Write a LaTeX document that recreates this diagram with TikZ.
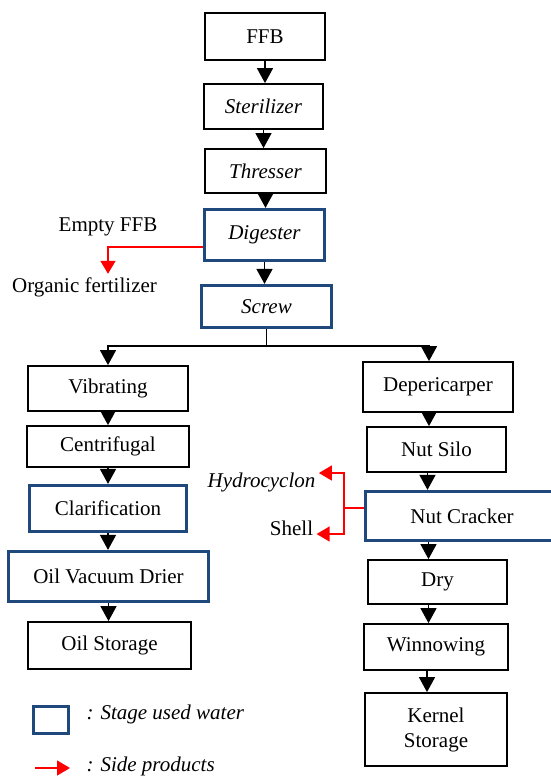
\documentclass[tikz,border=0pt]{standalone}
\usepackage{fontspec}
\setmainfont{Liberation Serif}
\usetikzlibrary{
    arrows.meta,
    positioning,
    calc
}
\definecolor{waterblue}{RGB}{31, 73, 125}
\definecolor{sidered}{RGB}{255, 0, 0}

\begin{document}
\begin{tikzpicture}[
        x=1pt, y=-1pt,
        font=\fontsize{21}{25}\selectfont,
        block/.style={draw, line width=1.8pt, inner sep=0pt, align=center},
        waterblock/.style={block, draw=waterblue, line width=3.2pt},
        arrow/.style={-{Triangle[width=16pt, length=15pt]}, line width=1.5pt},
        sidearrow/.style={-{Triangle[width=15pt, length=13pt]}, line width=1.5pt, draw=sidered}
    ]
        \useasboundingbox (0,0) rectangle (551,777);

        % Main line
        \node[block, minimum width=120pt, minimum height=47pt] (ffb) at (265, 36.5) {FFB};
        \node[block, minimum width=119pt, minimum height=45pt] (steril) at (263.5, 106.5) {\textit{Sterilizer}};
        \node[block, minimum width=121pt, minimum height=44pt] (thres) at (265.5, 171) {\textit{Thresser}};
        \node[waterblock, minimum width=120pt, minimum height=51pt] (digest) at (264.5, 235) {\textit{Digester}};
        \node[waterblock, minimum width=130pt, minimum height=42pt] (screw) at (266.5, 306.5) {\textit{Screw}};

        % Oil line
        \node[block, minimum width=160pt, minimum height=45pt] (vib) at (108, 388.5) {Vibrating};
        \node[block, minimum width=162pt, minimum height=41pt] (centri) at (108, 446.5) {Centrifugal};
        \node[waterblock, minimum width=157pt, minimum height=46pt] (clar) at (108, 508.5) {Clarification};
        \node[waterblock, minimum width=200pt, minimum height=50pt] (drier) at (108.5, 576.5) {Oil Vacuum Drier};
        \node[block, minimum width=163pt, minimum height=47pt] (oilst) at (109.5, 645.5) {Oil Storage};

        % Kernel line
        \node[block, minimum width=150pt, minimum height=50pt] (depe) at (438, 387) {Depericarper};
        \node[block, minimum width=139pt, minimum height=45pt] (silo) at (436.5, 449.5) {Nut Silo};
        \node[waterblock, minimum width=193pt, minimum height=49pt] (crack) at (462, 516) {Nut Cracker};
        \node[block, minimum width=139pt, minimum height=44pt] (dry) at (437.5, 582) {Dry};
        \node[block, minimum width=144pt, minimum height=46pt] (winnow) at (436, 647) {Winnowing};
        \node[block, minimum width=142pt, minimum height=73pt] (kernel) at (436, 729.5) {Kernel\\Storage};

        % Side products
        \node (empty) at (108, 227) {Empty FFB};
        \node (fert) at (84.5, 287) {Organic fertilizer};
        \node (hydro) at (261.5, 482) {\textit{Hydrocyclon}};
        \node (shell) at (291.5, 528) {Shell};

        % Arrows
        \draw[arrow] (ffb.south) -- (ffb.south |- steril.north);
        \draw[arrow] (steril.south) -- (steril.south |- thres.north);
        \draw[arrow] (thres.south) -- (thres.south |- digest.north);
        \draw[arrow] (digest.south) -- (digest.south |- screw.north);
        \draw[line width=1.5pt] (screw.south) -- ++(0,17) coordinate (split);
        \draw[arrow] (split) -| (vib.north);
        \draw[arrow] (split) -| ([xshift=-9pt]depe.north);

        \draw[arrow] (vib.south) -- (vib.south |- centri.north);
        \draw[arrow] (centri.south) -- (centri.south |- clar.north);
        \draw[arrow] (clar.south) -- (clar.south |- drier.north);
        \draw[arrow] (drier.south) -- (drier.south |- oilst.north);

        \draw[arrow] ([xshift=-9pt]depe.south) -- ([xshift=-9pt]depe.south |- silo.north);
        \draw[arrow] ([xshift=-9pt]silo.south) -- ([xshift=-9pt]silo.south |- crack.north);
        \draw[arrow] ([xshift=-9pt]dry.north |- crack.south) -- ([xshift=-9pt]dry.north);
        \draw[arrow] ([xshift=-9pt]dry.south) -- ([xshift=-9pt]dry.south |- winnow.north);
        \draw[arrow] ([xshift=-9pt]winnow.south) -- ([xshift=-9pt]winnow.south |- kernel.north);

        \draw[sidearrow] ([yshift=-12pt]digest.west) -| (fert.north -| empty.south);
        \draw[draw=sidered, line width=1.5pt] ([yshift=8pt]crack.west) -- ++(-20,0) coordinate (fork);
        \draw[sidearrow] (fork) |- ([yshift=9pt]hydro.east);
        \draw[sidearrow] (fork) |- ([yshift=-6pt]shell.east);

        % Legend
        \node[waterblock, minimum width=35pt, minimum height=27pt] (legbox) at (51, 720) {};
        \node[anchor=west] (legwater) at (83, 714) {\textit{: Stage used water}};
        \node[anchor=west] (legside) at (83, 766) {\textit{: Side products}};
        \coordinate (legtail) at (35, 768);
        \draw[sidearrow] (legtail) -- ([xshift=-13pt, yshift=-2pt]legside.west);
    \end{tikzpicture}
\end{document}
